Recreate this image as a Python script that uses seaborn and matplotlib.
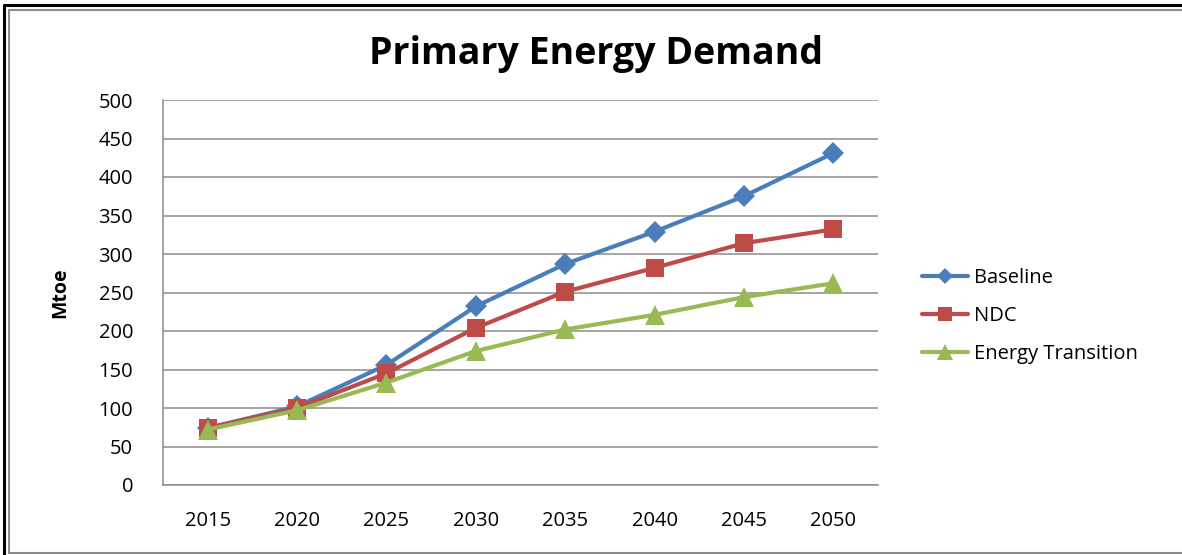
import matplotlib
matplotlib.use("Agg")
import matplotlib.pyplot as plt
from matplotlib.lines import Line2D
import seaborn as sns
import pandas as pd

# Primary energy demand by scenario (Mtoe)
years = ["2015", "2020", "2025", "2030", "2035", "2040", "2045", "2050"]
baseline = [74, 102, 156, 232, 287, 329, 375, 431]
ndc = [74, 100, 145, 204, 251, 282, 314, 332]
energy_transition = [72, 97, 133, 174, 202, 221, 244, 262]
scenarios = ["Baseline", "NDC", "Energy Transition"]
y_ticks = [0, 50, 100, 150, 200, 250, 300, 350, 400, 450, 500]

colors = {"Baseline": "#4A7EBB", "NDC": "#BE4B48", "Energy Transition": "#98B954"}
markers = {"Baseline": "D", "NDC": "s", "Energy Transition": "^"}
msizes = {"Baseline": 11, "NDC": 12.5, "Energy Transition": 14}
legend_msizes = {"Baseline": 8.5, "NDC": 9.5, "Energy Transition": 11}

df = pd.DataFrame({
    "Year": years * 3,
    "Mtoe": baseline + ndc + energy_transition,
    "Scenario": [s for s in scenarios for _ in years],
})

sns.set_style("white")
plt.rcParams["font.family"] = ["Open Sans", "DejaVu Sans"]
plt.rcParams["text.color"] = "black"
plt.rcParams["axes.labelcolor"] = "black"

fig = plt.figure(figsize=(11.82, 5.55), dpi=100)
ax = fig.add_axes([163 / 1182, 1 - 485 / 555, 715 / 1182, 385 / 555])

for s in scenarios:
    sub = df[df["Scenario"] == s]
    sns.lineplot(data=sub, x="Year", y="Mtoe", ax=ax, color=colors[s], lw=3,
                 marker=markers[s], markersize=msizes[s], markeredgewidth=0,
                 label=s, sort=False, legend=False)

ax.set_xlim(-0.5, len(years) - 0.5)
ax.set_ylim(0, 500)
ax.set_yticks(y_ticks)
ax.yaxis.grid(True, color="#8C8C8C", lw=1.1)
ax.set_axisbelow(True)
for side in ["top", "right"]:
    ax.spines[side].set_visible(False)
for side in ["left", "bottom"]:
    ax.spines[side].set_color("#8C8C8C")
    ax.spines[side].set_linewidth(1.1)
ax.tick_params(axis="both", length=0, labelsize=14.5, colors="black")
ax.tick_params(axis="y", pad=21.5)
ax.tick_params(axis="x", pad=19)
ax.set_xlabel("")
ax.set_ylabel("Mtoe", fontsize=14, fontweight="bold", labelpad=20, color="black")

fig.text(0.504, 1 - 54 / 555, "Primary Energy Demand", ha="center", va="center",
         fontsize=27, fontweight="bold", color="black")

handles = [Line2D([], [], color=colors[s], lw=3, marker=markers[s],
                  markersize=legend_msizes[s], markeredgewidth=0) for s in scenarios]
fig.legend(handles, scenarios, loc="upper left",
           bbox_to_anchor=(904 / 1182, 1 - 250 / 555), frameon=False,
           fontsize=14.5, handlelength=2.3, handletextpad=0.3, labelspacing=0.9)

# Outer frame: dark outer line with a grey inner line
fig.add_artist(Line2D([4 / 1182, 4 / 1182], [0, 1 - 5 / 555], transform=fig.transFigure,
                      color="black", lw=2.2))
fig.add_artist(Line2D([4 / 1182, 1], [1 - 5 / 555, 1 - 5 / 555], transform=fig.transFigure,
                      color="black", lw=2.2))
fig.add_artist(Line2D([9 / 1182, 9 / 1182], [2 / 555, 1 - 9.5 / 555], transform=fig.transFigure,
                      color="#8C8C8C", lw=1.5))
fig.add_artist(Line2D([9 / 1182, 1], [1 - 9.5 / 555, 1 - 9.5 / 555], transform=fig.transFigure,
                      color="#8C8C8C", lw=1.5))
fig.add_artist(Line2D([9 / 1182, 1], [2 / 555, 2 / 555], transform=fig.transFigure,
                      color="#8C8C8C", lw=1.5))

fig.savefig("out.png", dpi=100)
